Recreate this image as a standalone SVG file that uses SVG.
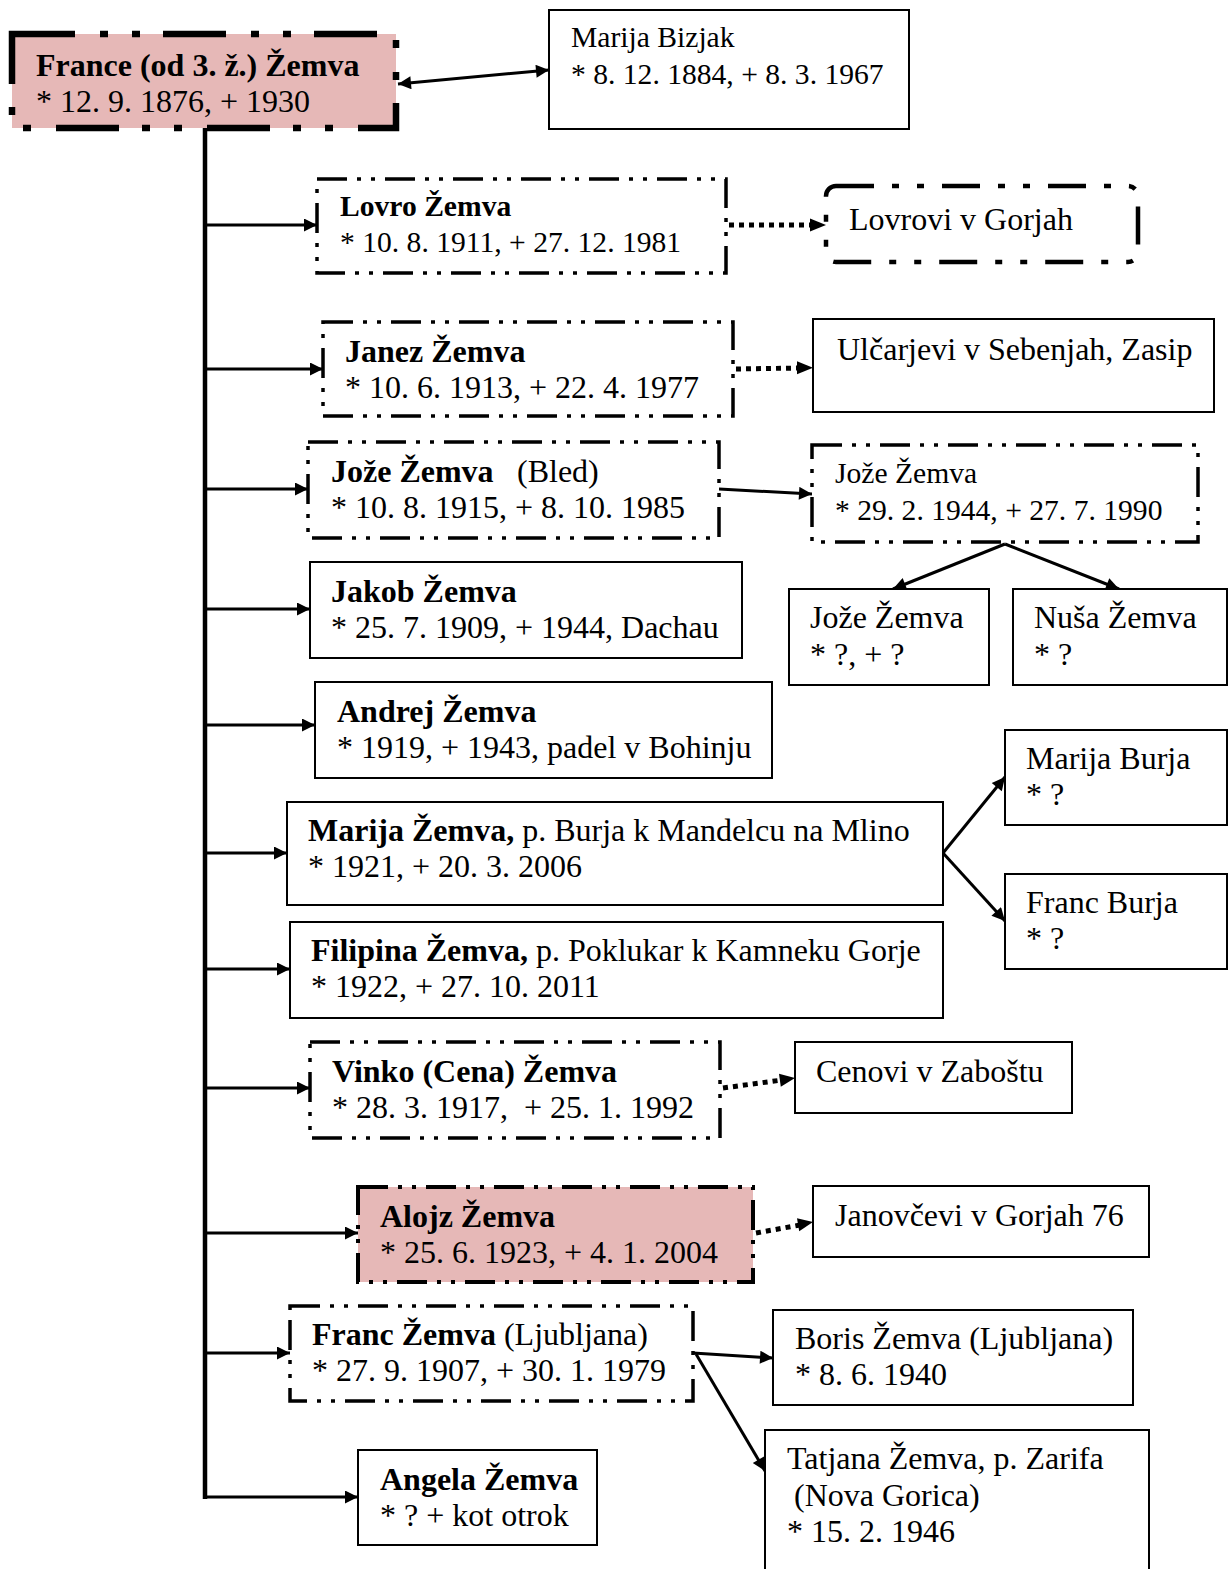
<svg xmlns="http://www.w3.org/2000/svg" width="1231" height="1569" viewBox="0 0 1231 1569">
<style>
text{font-family:"Liberation Serif","Times New Roman",serif;font-size:32px;fill:#000}
.s{font-size:29.6px}
.b{font-weight:bold}
.box{fill:#fff;stroke:#000;stroke-width:2}
.dd{fill:#fff;stroke:#000;stroke-width:3.5;stroke-dasharray:30 10 4 10 4 10}
.pink{fill:#e6b8b7}
.con{fill:none;stroke:#000;stroke-width:3}
.dot{fill:none;stroke:#000;stroke-width:5;stroke-dasharray:5 5}
</style>
<defs>
<marker id="ah" viewBox="0 0 10 10" refX="10" refY="5" markerWidth="16" markerHeight="13" markerUnits="userSpaceOnUse" orient="auto-start-reverse"><path d="M0,0 L10,5 L0,10 z" fill="#000"/></marker>
</defs>
<g id="connectors">
<line x1="205" y1="126" x2="205" y2="1499" stroke="#000" stroke-width="4.5"/>
<line class="con" x1="205" y1="225" x2="317" y2="225" marker-end="url(#ah)"/>
<line class="con" x1="205" y1="369" x2="323" y2="369" marker-end="url(#ah)"/>
<line class="con" x1="205" y1="489" x2="308" y2="489" marker-end="url(#ah)"/>
<line class="con" x1="205" y1="609" x2="310" y2="609" marker-end="url(#ah)"/>
<line class="con" x1="205" y1="725" x2="315" y2="725" marker-end="url(#ah)"/>
<line class="con" x1="205" y1="853" x2="287" y2="853" marker-end="url(#ah)"/>
<line class="con" x1="205" y1="969" x2="290" y2="969" marker-end="url(#ah)"/>
<line class="con" x1="205" y1="1088" x2="310" y2="1088" marker-end="url(#ah)"/>
<line class="con" x1="205" y1="1233" x2="358" y2="1233" marker-end="url(#ah)"/>
<line class="con" x1="205" y1="1353" x2="290" y2="1353" marker-end="url(#ah)"/>
<line class="con" x1="205" y1="1497" x2="358" y2="1497" marker-end="url(#ah)"/>
<line class="con" x1="398" y1="84" x2="549" y2="70" marker-start="url(#ah)" marker-end="url(#ah)"/>
<line class="dot" x1="729" y1="225" x2="812" y2="225"/>
<path d="M826,225 l-16,-6.5 v13 z" fill="#000"/>
<line class="dot" x1="736" y1="369" x2="800" y2="368"/>
<path d="M813,367.8 l-16,-6.5 v13 z" fill="#000"/>
<line class="dot" x1="723" y1="1088" x2="782" y2="1080"/>
<path d="M795,1078 l-16,-4.3 l1.8,13 z" fill="#000"/>
<line class="dot" x1="756" y1="1233" x2="800" y2="1225"/>
<path d="M813,1222 l-16,-3.8 l2.2,13 z" fill="#000"/>
<line class="con" x1="719" y1="489" x2="812" y2="494" marker-end="url(#ah)"/>
<line class="con" x1="1005" y1="544" x2="893" y2="589" marker-end="url(#ah)"/>
<line class="con" x1="1005" y1="544" x2="1119" y2="589" marker-end="url(#ah)"/>
<line class="con" x1="943" y1="853" x2="1005" y2="777" marker-end="url(#ah)"/>
<line class="con" x1="943" y1="853" x2="1005" y2="921" marker-end="url(#ah)"/>
<line class="con" x1="693" y1="1353" x2="773" y2="1358" marker-end="url(#ah)"/>
<line class="con" x1="696" y1="1354" x2="765" y2="1471" marker-end="url(#ah)"/>
</g>
<g id="n-france">
<rect x="12" y="34" width="384" height="94" class="pink" stroke="#000" stroke-width="6.5" stroke-dasharray="63 25 8 24 8 23"/>
<text x="36" y="76" class="b">France (od 3. ž.) Žemva</text>
<text x="36" y="112">* 12. 9. 1876, + 1930</text>
</g>
<g id="n-marija-bizjak">
<rect x="549" y="10" width="360" height="119" class="box"/>
<text x="571" y="47" class="s">Marija Bizjak</text>
<text x="571" y="84" class="s">* 8. 12. 1884, + 8. 3. 1967</text>
</g>
<g id="n-lovro">
<rect x="317" y="179" width="409" height="94" class="dd"/>
<text x="340" y="216" class="b s">Lovro Žemva</text>
<text x="340" y="252" class="s">* 10. 8. 1911, + 27. 12. 1981</text>
</g>
<g id="n-lovrovi">
<rect x="826" y="186" width="312" height="76" rx="10" fill="#fff" stroke="#000" stroke-width="4.5" stroke-dasharray="38 18 7 18 7 18"/>
<text x="849" y="230">Lovrovi v Gorjah</text>
</g>
<g id="n-janez">
<rect x="323" y="322" width="410" height="94" class="dd"/>
<text x="345" y="362" class="b">Janez Žemva</text>
<text x="345" y="398">* 10. 6. 1913, + 22. 4. 1977</text>
</g>
<g id="n-ulcarjevi">
<rect x="813" y="319" width="401" height="93" class="box"/>
<text x="837" y="360">Ulčarjevi v Sebenjah, Zasip</text>
</g>
<g id="n-joze-bled">
<rect x="308" y="442" width="411" height="96" class="dd"/>
<text x="331" y="482"><tspan class="b">Jože Žemva</tspan><tspan x="517">(Bled)</tspan></text>
<text x="331" y="518">* 10. 8. 1915, + 8. 10. 1985</text>
</g>
<g id="n-joze-1944">
<rect x="812" y="445" width="386" height="97" class="dd"/>
<text x="835" y="483" class="s">Jože Žemva</text>
<text x="835" y="520" class="s">* 29. 2. 1944, + 27. 7. 1990</text>
</g>
<g id="n-joze-child">
<rect x="789" y="589" width="200" height="96" class="box"/>
<text x="810" y="628">Jože Žemva</text>
<text x="810" y="665">* ?, + ?</text>
</g>
<g id="n-nusa">
<rect x="1013" y="589" width="214" height="96" class="box"/>
<text x="1034" y="628">Nuša Žemva</text>
<text x="1034" y="665">* ?</text>
</g>
<g id="n-jakob">
<rect x="310" y="562" width="432" height="96" class="box"/>
<text x="331" y="602" class="b">Jakob Žemva</text>
<text x="331" y="638">* 25. 7. 1909, + 1944, Dachau</text>
</g>
<g id="n-andrej">
<rect x="315" y="682" width="457" height="96" class="box"/>
<text x="337" y="722" class="b">Andrej Žemva</text>
<text x="337" y="758">* 1919, + 1943, padel v Bohinju</text>
</g>
<g id="n-marija">
<rect x="287" y="802" width="656" height="103" class="box"/>
<text x="308" y="841"><tspan class="b">Marija Žemva,</tspan> p. Burja k Mandelcu na Mlino</text>
<text x="308" y="877">* 1921, + 20. 3. 2006</text>
</g>
<g id="n-marija-burja">
<rect x="1005" y="730" width="222" height="95" class="box"/>
<text x="1026" y="769">Marija Burja</text>
<text x="1026" y="805">* ?</text>
</g>
<g id="n-franc-burja">
<rect x="1005" y="874" width="222" height="95" class="box"/>
<text x="1026" y="913">Franc Burja</text>
<text x="1026" y="949">* ?</text>
</g>
<g id="n-filipina">
<rect x="290" y="922" width="653" height="96" class="box"/>
<text x="311" y="961"><tspan class="b">Filipina Žemva,</tspan> p. Poklukar k Kamneku Gorje</text>
<text x="311" y="997">* 1922, + 27. 10. 2011</text>
</g>
<g id="n-vinko">
<rect x="310" y="1042" width="410" height="96" class="dd"/>
<text x="332" y="1082" class="b">Vinko (Cena) Žemva</text>
<text x="332" y="1118" xml:space="preserve">* 28. 3. 1917,  + 25. 1. 1992</text>
</g>
<g id="n-cenovi">
<rect x="795" y="1042" width="277" height="71" class="box"/>
<text x="816" y="1082">Cenovi v Zaboštu</text>
</g>
<g id="n-alojz">
<rect x="358" y="1187" width="395" height="95" class="pink" stroke="#000" stroke-width="4" stroke-dasharray="30 10 4 10 4 10"/>
<text x="380" y="1227" class="b">Alojz Žemva</text>
<text x="380" y="1263">* 25. 6. 1923, + 4. 1. 2004</text>
</g>
<g id="n-janovcevi">
<rect x="813" y="1186" width="336" height="71" class="box"/>
<text x="835" y="1226">Janovčevi v Gorjah 76</text>
</g>
<g id="n-franc">
<rect x="290" y="1306" width="403" height="95" class="dd"/>
<text x="312" y="1345"><tspan class="b">Franc Žemva</tspan> (Ljubljana)</text>
<text x="312" y="1381">* 27. 9. 1907, + 30. 1. 1979</text>
</g>
<g id="n-boris">
<rect x="773" y="1310" width="360" height="95" class="box"/>
<text x="795" y="1349">Boris Žemva (Ljubljana)</text>
<text x="795" y="1385">* 8. 6. 1940</text>
</g>
<g id="n-tatjana">
<rect x="765" y="1430" width="384" height="150" class="box"/>
<text x="787" y="1469">Tatjana Žemva, p. Zarifa</text>
<text x="794" y="1506">(Nova Gorica)</text>
<text x="787" y="1542">* 15. 2. 1946</text>
</g>
<g id="n-angela">
<rect x="358" y="1450" width="239" height="95" class="box"/>
<text x="380" y="1490" class="b">Angela Žemva</text>
<text x="380" y="1526">* ? + kot otrok</text>
</g>
</svg>
